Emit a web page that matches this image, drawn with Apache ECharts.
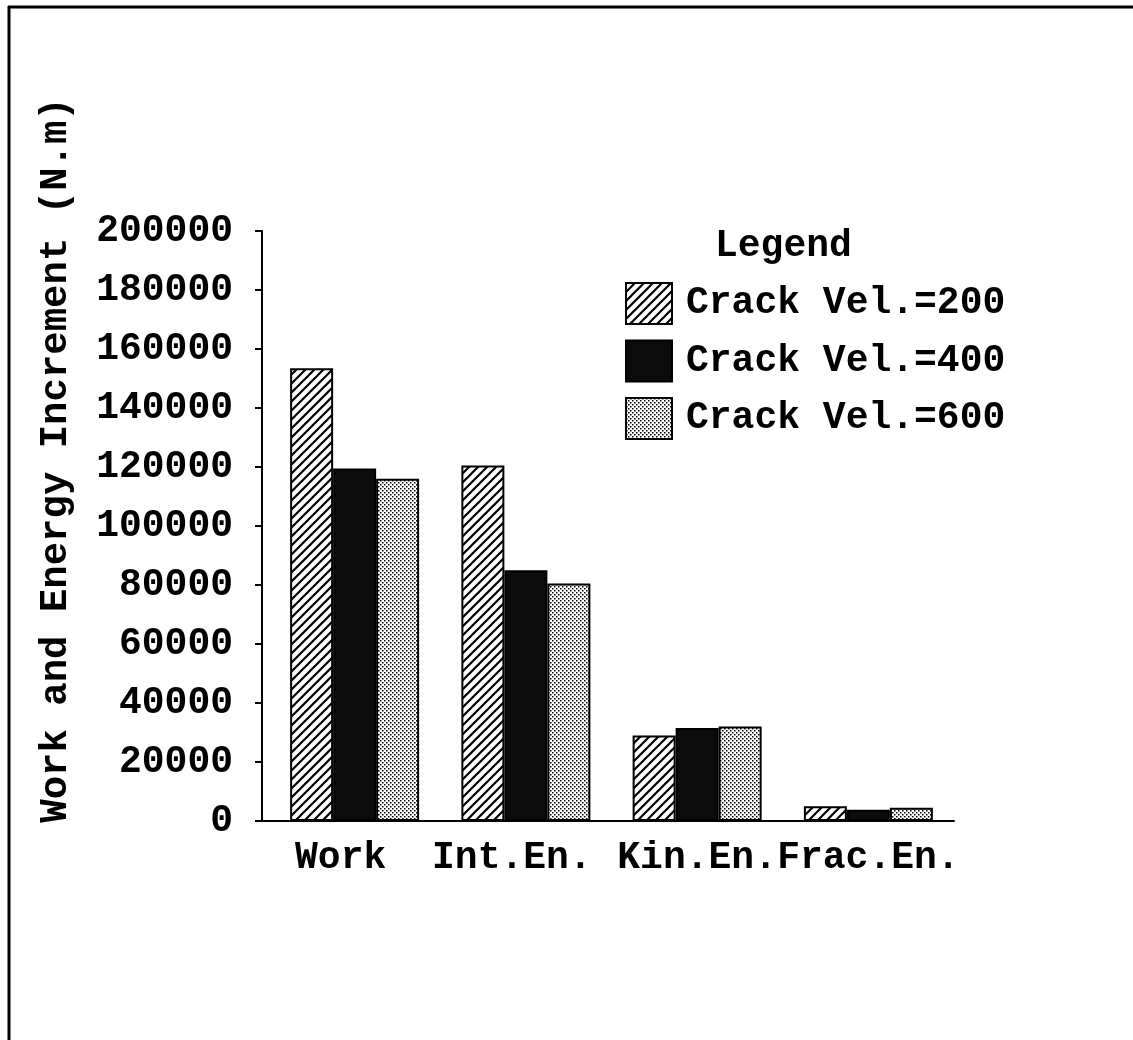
<!DOCTYPE html>
<html>
<head>
<meta charset="utf-8">
<script src="https://cdn.jsdelivr.net/npm/echarts@6/dist/echarts.min.js"></script>
<style>
html,body{margin:0;padding:0;background:#fff;}
#chart{width:1133px;height:1040px;}
</style>
</head>
<body>
<div id="chart"></div>
<script>
// ---- data ----
var categories = ['Work', 'Int.En.', 'Kin.En.', 'Frac.En.'];
var seriesNames = ['Crack Vel.=200', 'Crack Vel.=400', 'Crack Vel.=600'];
var vel200 = [153500, 120500, 29000, 5000];
var vel400 = [119500, 85000, 31500, 3800];
var vel600 = [116000, 80500, 32000, 4500];
var yTicks = [0, 20000, 40000, 60000, 80000, 100000, 120000, 140000, 160000, 180000, 200000];

var FONT = '"Courier New", Courier, "Liberation Mono", monospace';

function hatchPattern() {
  var c = document.createElement('canvas');
  var s = 9;
  c.width = s; c.height = s;
  var g = c.getContext('2d');
  g.fillStyle = '#fff'; g.fillRect(0, 0, s, s);
  g.strokeStyle = '#000'; g.lineWidth = 2.2;
  g.beginPath();
  g.moveTo(-2, s + 2); g.lineTo(s + 2, -2);
  g.moveTo(-2 - s, s + 2); g.lineTo(2, -2);
  g.moveTo(s - 2, s + 2); g.lineTo(2 * s + 2, -2);
  g.stroke();
  return c;
}
function stipplePattern() {
  var c = document.createElement('canvas');
  c.width = 4; c.height = 4;
  var g = c.getContext('2d');
  g.fillStyle = '#fff'; g.fillRect(0, 0, 4, 4);
  g.fillStyle = '#000';
  g.fillRect(0, 0, 1.5, 1.5);
  g.fillRect(2, 2, 1.5, 1.5);
  return c;
}
var fills = [
  { image: hatchPattern(), repeat: 'repeat' },
  '#0b0b0b',
  { image: stipplePattern(), repeat: 'repeat' }
];
var values = [vel200, vel400, vel600];

var chart = echarts.init(document.getElementById('chart'), null, { renderer: 'canvas' });

var series = seriesNames.map(function (n, i) {
  return {
    name: n,
    type: 'bar',
    data: values[i],
    barWidth: 43,
    barGap: '0%',
    itemStyle: { color: fills[i], borderColor: '#000', borderWidth: 2 },
    emphasis: { disabled: true }
  };
});

var labelStyle = { fontFamily: FONT, fontSize: 38, fontWeight: 'bold', color: '#000' };

chart.setOption({
  backgroundColor: '#fff',
  animation: false,
  title: {
    text: 'Legend',
    left: 710,
    top: 222,
    textStyle: labelStyle
  },
  legend: {
    data: seriesNames,
    orient: 'vertical',
    left: 625,
    top: 282,
    padding: 0,
    itemWidth: 46,
    itemHeight: 41,
    itemGap: 14.5,
    icon: 'rect',
    selectedMode: false,
    textStyle: { fontFamily: FONT, fontSize: 38, fontWeight: 'bold', color: '#000', padding: [0, 0, 0, 9] }
  },
  grid: { left: 269, right: 179, top: 231, bottom: 219, containLabel: false },
  xAxis: {
    type: 'category',
    data: categories,
    boundaryGap: true,
    axisLine: { lineStyle: { color: '#000', width: 2 } },
    axisTick: { alignWithLabel: true, length: 9, lineStyle: { color: '#000', width: 2 } },
    axisLabel: {
      fontFamily: FONT, fontSize: 38, fontWeight: 'bold', color: '#000',
      margin: 18, interval: 0,
      formatter: function (v, idx) {
        return (idx < 2 ? '{s|' : '{c|') + v + '}';
      },
      rich: {
        s: { fontFamily: FONT, fontSize: 38, fontWeight: 'bold', color: '#000', padding: [0, 28, 0, 0] },
        c: { fontFamily: FONT, fontSize: 38, fontWeight: 'bold', color: '#000' }
      }
    },
    splitLine: { show: false }
  },
  yAxis: {
    type: 'value',
    min: yTicks[0],
    max: yTicks[yTicks.length - 1],
    interval: yTicks[1] - yTicks[0],
    offset: 7,
    axisLine: { show: true, lineStyle: { color: '#000', width: 2 } },
    axisTick: { show: true, length: 7, lineStyle: { color: '#000', width: 2 } },
    axisLabel: {
      fontFamily: FONT, fontSize: 38, fontWeight: 'bold', color: '#000', margin: 29,
      formatter: function (v) { return String(v); }
    },
    splitLine: { show: false }
  },
  graphic: [
    { type: 'line', shape: { x1: 8, y1: 7, x2: 1133, y2: 7 }, style: { stroke: '#000', lineWidth: 3 } },
    { type: 'line', shape: { x1: 9, y1: 6, x2: 9, y2: 1040 }, style: { stroke: '#000', lineWidth: 3 } },
    { type: 'line', shape: { x1: 261, y1: 821, x2: 270, y2: 821 }, style: { stroke: '#000', lineWidth: 2 } },
    {
      type: 'text', x: 56, y: 460, rotation: Math.PI / 2,
      style: {
        text: 'Work and Energy Increment (N.m)',
        fontFamily: FONT, fontSize: 39, fontWeight: 'bold', fill: '#000',
        align: 'center', verticalAlign: 'middle'
      }
    }
  ],
  series: series
});
</script>
</body>
</html>
